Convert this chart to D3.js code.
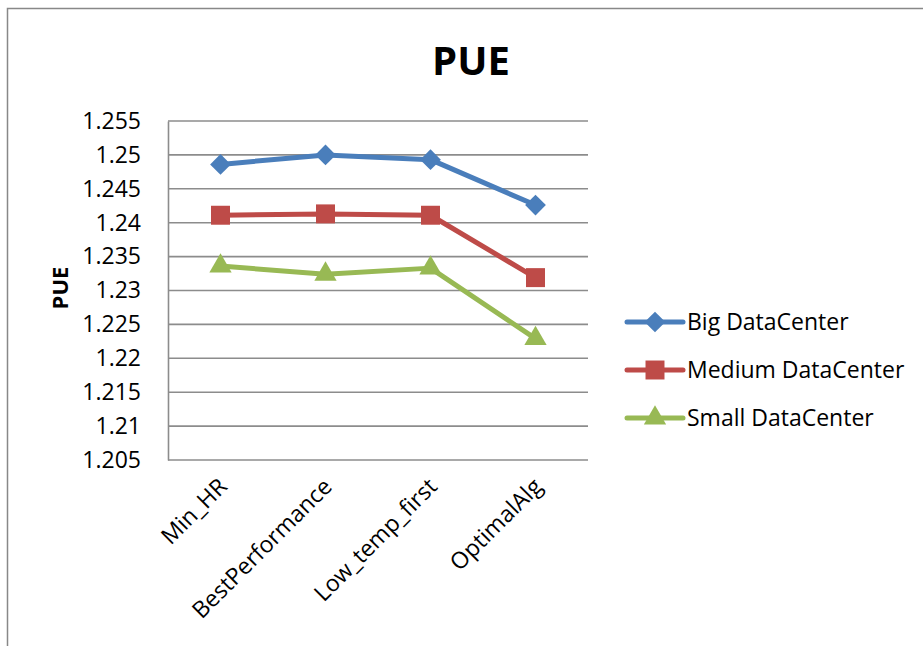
<!DOCTYPE html>
<html>
<head>
<meta charset="utf-8">
<script src="https://cdn.jsdelivr.net/npm/d3@7"></script>
<style>
  html, body { margin: 0; padding: 0; background: #fff; }
  svg { display: block; }
  text { font-family: "Open Sans", "Noto Sans", sans-serif; fill: #000; }
</style>
</head>
<body>
<svg id="chart" width="923" height="646"></svg>
<script>
// Categories (scheduling strategies)
const categories = ["Min_HR", "BestPerformance", "Low_temp_first", "OptimalAlg"];

// PUE per data-center size
const bigValues    = [1.2486, 1.2500, 1.2493, 1.2426];
const mediumValues = [1.2411, 1.2413, 1.2411, 1.2319];
const smallValues  = [1.2336, 1.2324, 1.2333, 1.2229];

const seriesNames  = ["Big DataCenter", "Medium DataCenter", "Small DataCenter"];
const seriesColors = ["#4A7EBB", "#BE4B48", "#98B954"];

// Y axis ticks
const yTicks = [1.205, 1.21, 1.215, 1.22, 1.225, 1.23, 1.235, 1.24, 1.245, 1.25, 1.255];
const yTickLabels = ["1.205", "1.21", "1.215", "1.22", "1.225", "1.23", "1.235", "1.24", "1.245", "1.25", "1.255"];

// marker shapes: diamond (rotated square), square, triangle
const markerPaths = [
  d3.symbol().type(d3.symbolSquare).size(215)(),
  d3.symbol().type(d3.symbolSquare).size(360)(),
  d3.symbol().type(d3.symbolTriangle).size(215)()
];
const markerRotate = [45, 0, 0];

const series = [bigValues, mediumValues, smallValues].map((vals, i) => ({
  name: seriesNames[i], color: seriesColors[i], marker: markerPaths[i], rot: markerRotate[i],
  values: vals.map((v, j) => ({ cat: categories[j], v }))
}));

const svg = d3.select("#chart");

// outer chart frame
svg.append("path")
  .attr("d", "M7.5,646 L7.5,8.5 L923,8.5")
  .attr("fill", "none").attr("stroke", "#888").attr("stroke-width", 1.5);

const plot = { left: 168, right: 588, top: 121, bottom: 460 };

const x = d3.scaleBand().domain(categories).range([plot.left, plot.right]);
const y = d3.scaleLinear().domain([1.205, 1.255]).range([plot.bottom, plot.top]);

// horizontal gridlines
svg.append("g").selectAll("line").data(yTicks).join("line")
  .attr("x1", plot.left).attr("x2", plot.right)
  .attr("y1", d => y(d)).attr("y2", d => y(d))
  .attr("stroke", "#8c8c8c").attr("stroke-width", 1.6);

// y axis
const yAxis = d3.axisLeft(y).tickValues(yTicks)
  .tickFormat((d, i) => yTickLabels[i]).tickSize(0).tickPadding(27);
const gy = svg.append("g").attr("transform", `translate(${plot.left},0)`).call(yAxis);
gy.select(".domain").attr("stroke", "#8c8c8c").attr("stroke-width", 1.6);
gy.selectAll("text").attr("font-size", 23).attr("fill", "#000")
  .style("font-family", '"Open Sans", sans-serif');

// x axis labels, rotated
const xAxis = d3.axisBottom(x).tickSize(0).tickPadding(0);
const gx = svg.append("g").attr("transform", `translate(0,${plot.bottom})`).call(xAxis);
gx.select(".domain").remove();
gx.selectAll("text")
  .attr("font-size", 23).attr("fill", "#000")
  .style("font-family", '"Open Sans", sans-serif')
  .attr("text-anchor", "end")
  .attr("dy", null).attr("y", 0)
  .attr("transform", "translate(8,28) rotate(-45)");

// lines
const line = d3.line().x(d => x(d.cat) + x.bandwidth() / 2).y(d => y(d.v));
series.forEach(s => {
  svg.append("path").datum(s.values)
    .attr("d", line).attr("fill", "none")
    .attr("stroke", s.color).attr("stroke-width", 5)
    .attr("stroke-linejoin", "round");
});

// markers
series.forEach(s => {
  svg.append("g").selectAll("path").data(s.values).join("path")
    .attr("d", s.marker)
    .attr("transform", d => `translate(${x(d.cat) + x.bandwidth() / 2},${y(d.v)}) rotate(${s.rot})`)
    .attr("fill", s.color);
});

// title
svg.append("text").attr("x", 471).attr("y", 75)
  .attr("text-anchor", "middle").attr("font-size", 40).attr("font-weight", "bold")
  .text("PUE");

// y axis title
svg.append("text")
  .attr("transform", "translate(68,288) rotate(-90)")
  .attr("text-anchor", "middle").attr("font-size", 22).attr("font-weight", "bold")
  .text("PUE");

// legend
const legendY = [322, 370, 418];
const lg = svg.append("g").selectAll("g").data(series).join("g")
  .attr("transform", (d, i) => `translate(627,${legendY[i]})`);
lg.append("line").attr("x1", 0).attr("x2", 56).attr("y1", 0).attr("y2", 0)
  .attr("stroke", d => d.color).attr("stroke-width", 5).attr("stroke-linecap", "round");
lg.append("path")
  .attr("d", d => d.marker)
  .attr("transform", d => `translate(28,0) rotate(${d.rot})`)
  .attr("fill", d => d.color);
lg.append("text").attr("x", 60).attr("y", 0).attr("dy", "0.35em")
  .attr("font-size", 23).text(d => d.name);
</script>
</body>
</html>
